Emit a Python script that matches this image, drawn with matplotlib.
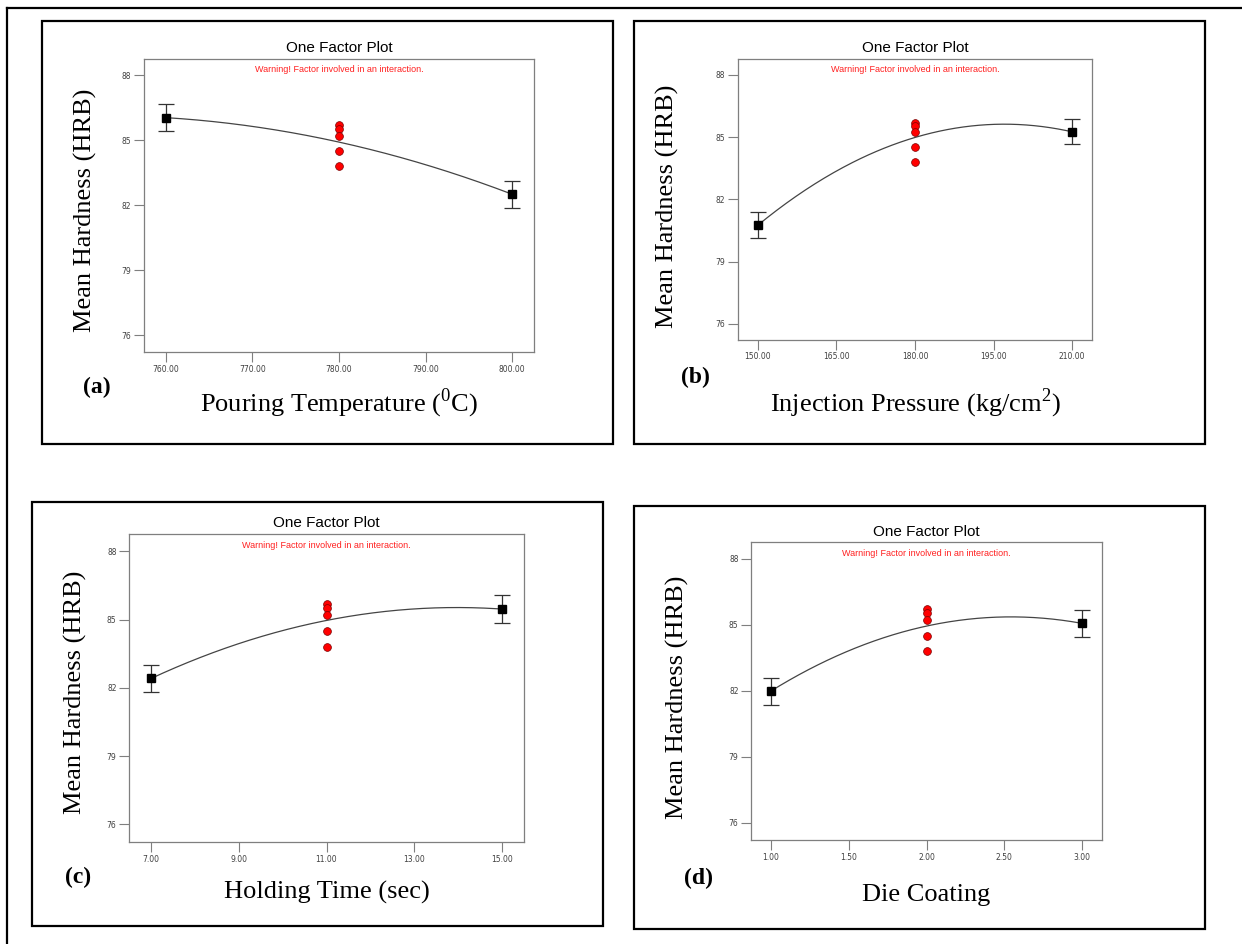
import numpy as np
import matplotlib
matplotlib.use("Agg")
import matplotlib.pyplot as plt
from matplotlib.patches import Rectangle
from matplotlib.lines import Line2D

plt.rcParams["mathtext.fontset"] = "custom"
plt.rcParams["mathtext.rm"] = "Liberation Serif"

W, H = 1242, 944

# ---- data ----
y_ticks = [76, 79, 82, 85, 88]
center_runs = [85.70, 85.52, 85.22, 84.51, 83.80]   # replicate centre points (red)

levels_a = [760.0, 780.0, 800.0]
pred_a = [86.05, 84.92, 82.51]
err_a = [0.64, 0.62]
xticks_a = [760, 770, 780, 790, 800]

levels_b = [150.0, 180.0, 210.0]
pred_b = [80.75, 84.98, 85.25]
err_b = [0.63, 0.60]
xticks_b = [150, 165, 180, 195, 210]

levels_c = [7.0, 11.0, 15.0]
pred_c = [82.41, 84.96, 85.46]
err_c = [0.61, 0.63]
xticks_c = [7, 9, 11, 13, 15]

levels_d = [1.0, 2.0, 3.0]
pred_d = [81.98, 84.94, 85.06]
err_d = [0.62, 0.63]
xticks_d = [1.0, 1.5, 2.0, 2.5, 3.0]

xlabels = [
    r"Pouring Temperature ($^{0}$C)",
    r"Injection Pressure (kg/cm$^{2}$)",
    "Holding Time (sec)",
    "Die Coating",
]
letters = ["(a)", "(b)", "(c)", "(d)"]

# ---- layout (pixels) ----
panels = [  # frame box: x0, y0, x1, y1
    (42, 21, 613, 444),
    (634, 21, 1205, 444),
    (32, 502, 603, 926),
    (634, 506, 1205, 929),
]
axes_px = [  # left, right, top, bottom
    (144, 534, 59, 352),
    (738, 1092, 59, 340),
    (129, 524, 534, 842),
    (751, 1102, 542, 840),
]
text_px = [  # title y, warning y, ylabel x, ylabel y, letter x, letter y, xlabel y
    (48, 69, 85, 210, 97, 387, 403),
    (48, 69, 667, 206, 695, 377, 403),
    (523, 545, 75, 692, 78, 877, 892),
    (532, 553, 677, 697, 698, 878, 895),
]


def fx(x):
    return x / W


def fy(y):
    return 1 - y / H


fig = plt.figure(figsize=(W / 100, H / 100), dpi=100)

# outer frame (top and left edges only visible)
fig.add_artist(Line2D([fx(7), 1.0], [fy(8), fy(8)], color="black", lw=1.6,
                      transform=fig.transFigure))
fig.add_artist(Line2D([fx(7), fx(7)], [fy(8), 0.0], color="black", lw=1.6,
                      transform=fig.transFigure))

series = [
    (levels_a, pred_a, err_a, xticks_a),
    (levels_b, pred_b, err_b, xticks_b),
    (levels_c, pred_c, err_c, xticks_c),
    (levels_d, pred_d, err_d, xticks_d),
]

for i, (levels, pred, err, xt) in enumerate(series):
    x0, y0, x1, y1 = panels[i]
    fig.add_artist(Rectangle((fx(x0), fy(y1)), fx(x1 - x0), (y1 - y0) / H,
                             fill=False, edgecolor="black", lw=1.6,
                             transform=fig.transFigure))

    l, r, t, b = axes_px[i]
    ax = fig.add_axes([fx(l), fy(b), fx(r - l), (b - t) / H])

    # quadratic model through the predicted means
    coef = np.polyfit(levels, pred, 2)
    xs = np.linspace(levels[0], levels[-1], 200)
    ax.plot(xs, np.polyval(coef, xs), color="#444444", lw=0.9, zorder=2)

    ends_x = [levels[0], levels[-1]]
    ends_y = [pred[0], pred[-1]]
    ax.errorbar(ends_x, ends_y, yerr=err, fmt="none", ecolor="#333333",
                elinewidth=0.9, capsize=6, capthick=0.9, zorder=3)
    ax.plot(ends_x, ends_y, "s", color="black", ms=5.5, zorder=4)

    ax.plot([levels[1]] * len(center_runs), center_runs, "o", ms=5.6,
            markerfacecolor="#ff0000", markeredgecolor="#7a0000", mew=0.5,
            zorder=4)

    span = levels[-1] - levels[0]
    ax.set_xlim(levels[0] - 0.063 * span, levels[-1] + 0.063 * span)
    ax.set_ylim(75.22, 88.76)
    ax.set_xticks(xt)
    ax.set_xticklabels([f"{v:.2f}" for v in xt])
    ax.set_yticks(y_ticks)
    ax.tick_params(direction="out", length=7, width=0.8, color="#7f7f7f",
                   labelsize=5.5, labelcolor="#404040", pad=2)
    for sp in ax.spines.values():
        sp.set_color("#7f7f7f")
        sp.set_linewidth(0.9)

    ty, wy, ylx, yly, lx, ly, xly = text_px[i]
    cx = (l + r) / 2
    fig.text(fx(cx), fy(ty), "One Factor Plot", ha="center", va="center",
             fontsize=11, family="Liberation Sans")
    fig.text(fx(cx), fy(wy), "Warning! Factor involved in an interaction.",
             ha="center", va="center", fontsize=6.5, color="#ff2020",
             family="Liberation Sans")
    fig.text(fx(ylx), fy(yly), "Mean Hardness (HRB)", rotation=90,
             ha="center", va="center", fontsize=19, family="Liberation Serif")
    fig.text(fx(lx), fy(ly), letters[i], ha="center", va="center",
             fontsize=17, fontweight="bold", family="Liberation Serif")
    fig.text(fx(cx), fy(xly), xlabels[i], ha="center", va="center",
             fontsize=19, family="Liberation Serif")

fig.savefig("out.png", dpi=100)
